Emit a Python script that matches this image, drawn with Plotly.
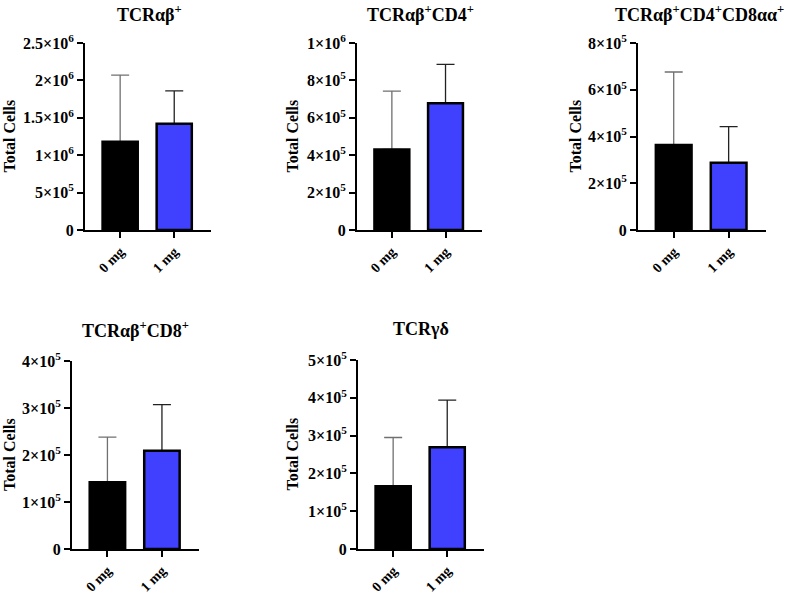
import plotly.graph_objects as go

groups = ["0 mg", "1 mg"]
titles = ["TCRαβ<sup>+</sup>", "TCRαβ<sup>+</sup>CD4<sup>+</sup>",
          "TCRαβ<sup>+</sup>CD4<sup>+</sup>CD8αα<sup>+</sup>",
          "TCRαβ<sup>+</sup>CD8<sup>+</sup>", "TCRγδ"]
means = [[1.18e6, 1.42e6], [4.31e5, 6.78e5], [3.64e5, 2.88e5],
         [1.42e5, 2.09e5], [1.66e5, 2.69e5]]
upper = [[2.07e6, 1.86e6], [7.43e5, 8.86e5], [6.76e5, 4.42e5],
         [2.38e5, 3.07e5], [2.95e5, 3.94e5]]
ymax = [2.5e6, 1e6, 8e5, 4e5, 5e5]
tickvals = [[0, 5e5, 1e6, 1.5e6, 2e6, 2.5e6],
            [0, 2e5, 4e5, 6e5, 8e5, 1e6],
            [0, 2e5, 4e5, 6e5, 8e5],
            [0, 1e5, 2e5, 3e5, 4e5],
            [0, 1e5, 2e5, 3e5, 4e5, 5e5]]
ticktext = [["0", "5×10<sup>5</sup>", "1×10<sup>6</sup>", "1.5×10<sup>6</sup>", "2×10<sup>6</sup>", "2.5×10<sup>6</sup>"],
            ["0", "2×10<sup>5</sup>", "4×10<sup>5</sup>", "6×10<sup>5</sup>", "8×10<sup>5</sup>", "1×10<sup>6</sup>"],
            ["0", "2×10<sup>5</sup>", "4×10<sup>5</sup>", "6×10<sup>5</sup>", "8×10<sup>5</sup>"],
            ["0", "1×10<sup>5</sup>", "2×10<sup>5</sup>", "3×10<sup>5</sup>", "4×10<sup>5</sup>"],
            ["0", "1×10<sup>5</sup>", "2×10<sup>5</sup>", "3×10<sup>5</sup>", "4×10<sup>5</sup>", "5×10<sup>5</sup>"]]
ytitle = "Total Cells"
colors = ["#000000", "#4040FF"]
errcolors = ["#707070", "#222222"]

W, H = 791, 595
# layout geometry (pixels)
xdom_px = [(85, 211), (357, 482), (638, 766), (72, 199), (358, 484)]
ydom_px = [(43, 230), (43, 230), (43, 230), (361, 549), (360, 549)]
title_pos = [(149, 0), (420, 0), (699, 0), (135, 316), (421, 317)]
ytitle_x = [9, 292, 575, 10, 292]

FONT = "Times New Roman, Liberation Serif, DejaVu Serif, serif"
fig = go.Figure()
annotations = []
for i in range(5):
    ax = "" if i == 0 else str(i + 1)
    # error bars first (invisible bars) so the real bars cover the lower cap
    for j, g in enumerate(groups):
        fig.add_trace(go.Bar(
            x=[g], y=[means[i][j]],
            xaxis="x" + ax, yaxis="y" + ax,
            width=0.65,
            marker=dict(color="rgba(0,0,0,0)", line=dict(width=0)),
            error_y=dict(type="data", symmetric=False,
                         array=[upper[i][j] - means[i][j]], arrayminus=[0],
                         color=errcolors[j], thickness=1.3, width=9),
            showlegend=False, hoverinfo="skip",
        ))
    for j, g in enumerate(groups):
        fig.add_trace(go.Bar(
            x=[g], y=[means[i][j]],
            xaxis="x" + ax, yaxis="y" + ax,
            width=0.65,
            marker=dict(color=colors[j], line=dict(color="#000000", width=2.5)),
            showlegend=False,
        ))
    x0, x1 = xdom_px[i]
    yt, yb = ydom_px[i]
    fig.update_layout(**{
        "xaxis" + ax: dict(domain=[x0 / W, x1 / W], anchor="y" + ax,
                           type="category", range=[-0.65, 1.68], automargin=False,
                           showline=True, linecolor="#000", linewidth=2,
                           ticks="outside", ticklen=6, tickwidth=2, tickcolor="#000",
                           tickangle=-45, showgrid=False, zeroline=False,
                           tickfont=dict(family=FONT, size=14, color="#000", weight="bold")),
        "yaxis" + ax: dict(domain=[1 - yb / H, 1 - yt / H], anchor="x" + ax,
                           range=[0, ymax[i]], automargin=False,
                           tickvals=tickvals[i], ticktext=ticktext[i],
                           showline=True, linecolor="#000", linewidth=2,
                           ticks="outside", ticklen=6, tickwidth=2, tickcolor="#000",
                           showgrid=False, zeroline=False,
                           tickfont=dict(family=FONT, size=16, color="#000", weight="bold")),
    })
    tx, ty = title_pos[i]
    annotations.append(dict(text="<b>" + titles[i] + "</b>", x=tx / W, y=1 - ty / H,
                            xref="paper", yref="paper", showarrow=False,
                            xanchor="center", yanchor="top",
                            font=dict(family=FONT, size=18, color="#000")))
    annotations.append(dict(text="<b>" + ytitle + "</b>", x=ytitle_x[i] / W,
                            y=1 - (yt + yb) / 2 / H,
                            xref="paper", yref="paper", showarrow=False, textangle=-90,
                            xanchor="center", yanchor="middle",
                            font=dict(family=FONT, size=16, color="#000")))

fig.update_layout(width=W, height=H, margin=dict(l=0, r=0, t=0, b=0, autoexpand=False),
                  paper_bgcolor="white", plot_bgcolor="white",
                  font=dict(family=FONT),
                  barmode="overlay", annotations=annotations)
fig.write_html("out.html")
